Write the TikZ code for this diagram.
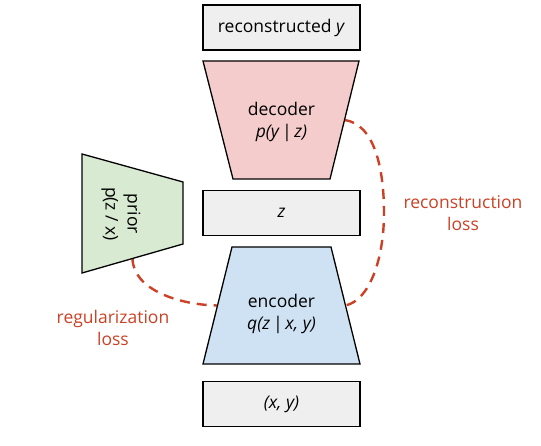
\documentclass[tikz,border=0pt]{standalone}
\usepackage{fontspec}
\setmainfont{Open Sans}
\usetikzlibrary{calc}
\definecolor{boxgray}{HTML}{EFEFEF}
\definecolor{decpink}{HTML}{F4CCCC}
\definecolor{encblue}{HTML}{CFE2F3}
\definecolor{priorgreen}{HTML}{D9EAD3}
\definecolor{lossred}{HTML}{CC4125}
\begin{document}
\begin{tikzpicture}[x=1pt, y=-1pt,
        txt/.style={font=\fontsize{17.5}{22}\selectfont, align=center},
        box/.style={txt, draw=black, line width=1.3pt, fill=boxgray, minimum width=157pt, minimum height=45pt},
        trap/.style={draw=black, line width=1.3pt},
        loss/.style={draw=lossred, line width=2.4pt, dash pattern=on 10pt off 7pt},
        losstxt/.style={txt, text=lossred}]
        \useasboundingbox (0, 0) rectangle (541, 446);

        % corners of the trapezoids
        \coordinate (dec-tl) at (203, 61);
        \coordinate (dec-tr) at (359, 61);
        \coordinate (dec-br) at (330, 179);
        \coordinate (dec-bl) at (233, 179);
        \coordinate (enc-tl) at (232, 247);
        \coordinate (enc-tr) at (331, 247);
        \coordinate (enc-br) at (360, 364);
        \coordinate (enc-bl) at (203, 364);
        \coordinate (pri-tl) at (82, 154);
        \coordinate (pri-tr) at (183, 182);
        \coordinate (pri-br) at (183, 244);
        \coordinate (pri-bl) at (82, 273);

        \coordinate (dec-r) at ($(dec-tr)!0.5!(dec-br)$);
        \coordinate (enc-r) at ($(enc-tr)!0.5!(enc-br)$);
        \coordinate (enc-l) at ($(enc-tl)!0.5!(enc-bl)$);
        \coordinate (pri-b) at ($(pri-bl)!0.5!(pri-br)$);

        % losses
        \draw[loss] (dec-r) .. controls (375, 124) and (384, 170) .. (384, 213)
            .. controls (384, 258) and (370, 300) .. (enc-r);
        \draw[loss] (pri-b) .. controls (133, 290) and (180, 305) .. (enc-l);

        \draw[trap, fill=decpink] (dec-tl) -- (dec-tr) -- (dec-br) -- (dec-bl) -- cycle;
        \draw[trap, fill=encblue] (enc-tl) -- (enc-tr) -- (enc-br) -- (enc-bl) -- cycle;
        \draw[trap, fill=priorgreen] (pri-tl) -- (pri-tr) -- (pri-br) -- (pri-bl) -- cycle;

        \node[box] (recon) at (281.5, 27.5) {reconstructed \textit{y}};
        \node[box] (z) at (281.5, 213) {\textit{z}};
        \node[box] (xy) at (281.5, 404) {\textit{(x, y)}};

        \node[txt] (decoder) at (281.5, 122) {decoder\\\textit{p(y\,|\,z)}};
        \node[txt] (encoder) at (281.5, 314) {encoder\\\textit{q(z\,|\,x, y)}};
        \node[txt, rotate=-90] (prior) at (121, 214) {prior\\p(z / x)};

        \node[losstxt] (recloss) at (463, 213) {reconstruction\\loss};
        \node[losstxt] (regloss) at (113, 328) {regularization\\loss};
    \end{tikzpicture}
\end{document}
